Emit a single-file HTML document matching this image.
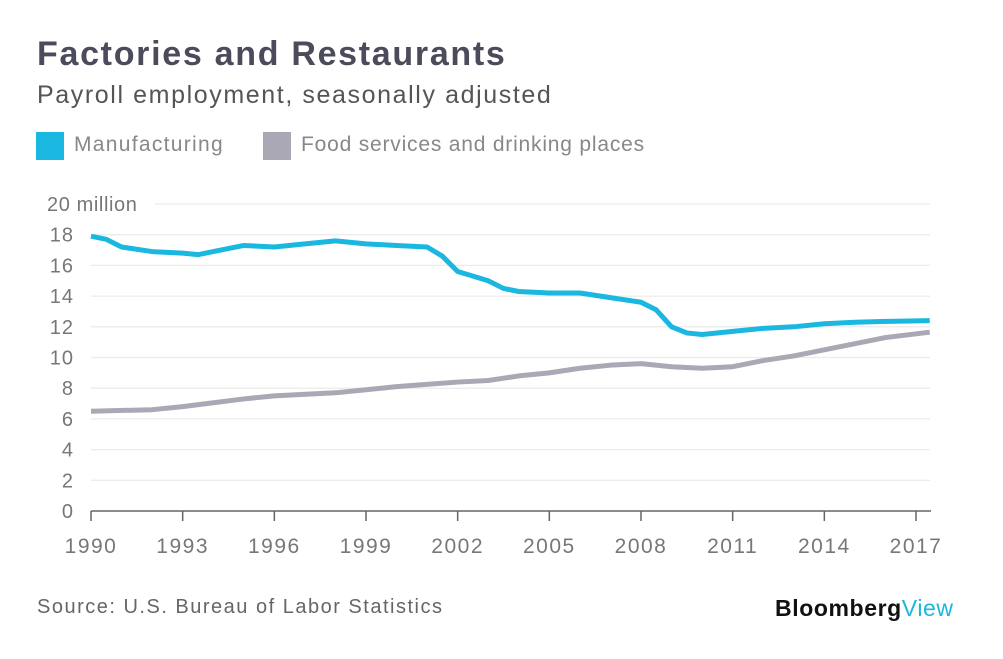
<!DOCTYPE html>
<html><head><meta charset="utf-8"><style>
body{margin:0;width:1003px;height:659px;background:#fff;font-family:"Liberation Sans",sans-serif;overflow:hidden;position:relative}
.t{position:absolute;white-space:nowrap}
</style></head><body>
<div class="t" style="left:37px;top:35px;font-size:34px;font-weight:bold;color:#4b4b5b;letter-spacing:1.7px">Factories and Restaurants</div>
<div class="t" style="left:37px;top:81px;font-size:25px;color:#555;letter-spacing:1.6px">Payroll employment, seasonally adjusted</div>
<div>
<div style="position:absolute;left:36px;top:132px;width:28px;height:28px;background:#1ab8e0"></div>
<div class="t" style="left:74px;top:133px;font-size:21px;color:#888;letter-spacing:1.3px">Manufacturing</div></div>
<div>
<div style="position:absolute;left:263px;top:132px;width:28px;height:28px;background:#a9a8b4"></div>
<div class="t" style="left:301px;top:133px;font-size:21px;color:#888;letter-spacing:0.8px">Food services and drinking places</div></div>
<svg id="c" width="1003" height="659" style="position:absolute;left:0;top:0"></svg>
<div class="t" style="left:37px;top:596px;font-size:20px;color:#666;letter-spacing:1.5px">Source: U.S. Bureau of Labor Statistics</div>
<div class="t" style="left:775px;top:595px;font-size:23px;font-weight:bold;color:#111;letter-spacing:0.6px">Bloomberg<span style="color:#1ab8e0;font-weight:normal">View</span></div>
<script>
const yTicks=[0,2,4,6,8,10,12,14,16,18,20];
const xTicks=[1990,1993,1996,1999,2002,2005,2008,2011,2014,2017];
const mfgYears=[1990,1990.5,1991,1992,1993,1993.5,1994,1995,1996,1997,1998,1999,2000,2001,2001.5,2002,2003,2003.5,2004,2005,2006,2007,2008,2008.5,2009,2009.5,2010,2011,2012,2013,2014,2015,2016,2017.45];
const mfgValues=[17.9,17.7,17.2,16.9,16.8,16.7,16.9,17.3,17.2,17.4,17.6,17.4,17.3,17.2,16.6,15.6,15.0,14.5,14.3,14.2,14.2,13.9,13.6,13.1,12.0,11.6,11.5,11.7,11.9,12.0,12.2,12.3,12.35,12.4];
const foodYears=[1990,1992,1993,1995,1996,1998,1999,2000,2002,2003,2004,2005,2006,2007,2008,2009,2010,2011,2012,2013,2014,2015,2016,2017.45];
const foodValues=[6.5,6.6,6.8,7.3,7.5,7.7,7.9,8.1,8.4,8.5,8.8,9.0,9.3,9.5,9.6,9.4,9.3,9.4,9.8,10.1,10.5,10.9,11.3,11.65];
const NS='http://www.w3.org/2000/svg',svg=document.getElementById('c');
const X=v=>91+(v-1990)*(825/27), Y=v=>511-v*(307/20);
function mk(t,a){const e=document.createElementNS(NS,t);for(const k in a)e.setAttribute(k,a[k]);svg.appendChild(e);return e;}
yTicks.forEach(v=>{
 if(v>0){const g=mk('line',{x1:v==20?155:91,x2:930,y1:Y(v),y2:Y(v),stroke:'#ececec','stroke-width':1.3});
 
 }
 const t=mk('text',{x:v==20?47:74,y:Y(v)+7,'text-anchor':v==20?'start':'end','font-size':20,fill:'#777','font-family':'Liberation Sans','letter-spacing':v==20?0.6:1});
 t.textContent=v==20?'20 million':v;
 
 
});
const ax=mk('line',{x1:91,x2:931,y1:511,y2:511,stroke:'#666','stroke-width':1.5});


xTicks.forEach(v=>{
 const l=mk('line',{x1:X(v),x2:X(v),y1:511,y2:521,stroke:'#666','stroke-width':1.5});
 
 
 const t=mk('text',{x:X(v),y:553,'text-anchor':'middle','font-size':21,fill:'#777','font-family':'Liberation Sans','letter-spacing':1.5});
 t.textContent=v;
 
 
});
function line(xs,ys,c,n){const p=mk('polyline',{points:xs.map((x,i)=>X(x)+','+Y(ys[i])).join(' '),fill:'none',stroke:c,'stroke-width':5,'stroke-linejoin':'round'});
 
 }
line(foodYears,foodValues,'#a9a8b4','food-services-line');
line(mfgYears,mfgValues,'#1ab8e0','manufacturing-line');
</script>
</body></html>
